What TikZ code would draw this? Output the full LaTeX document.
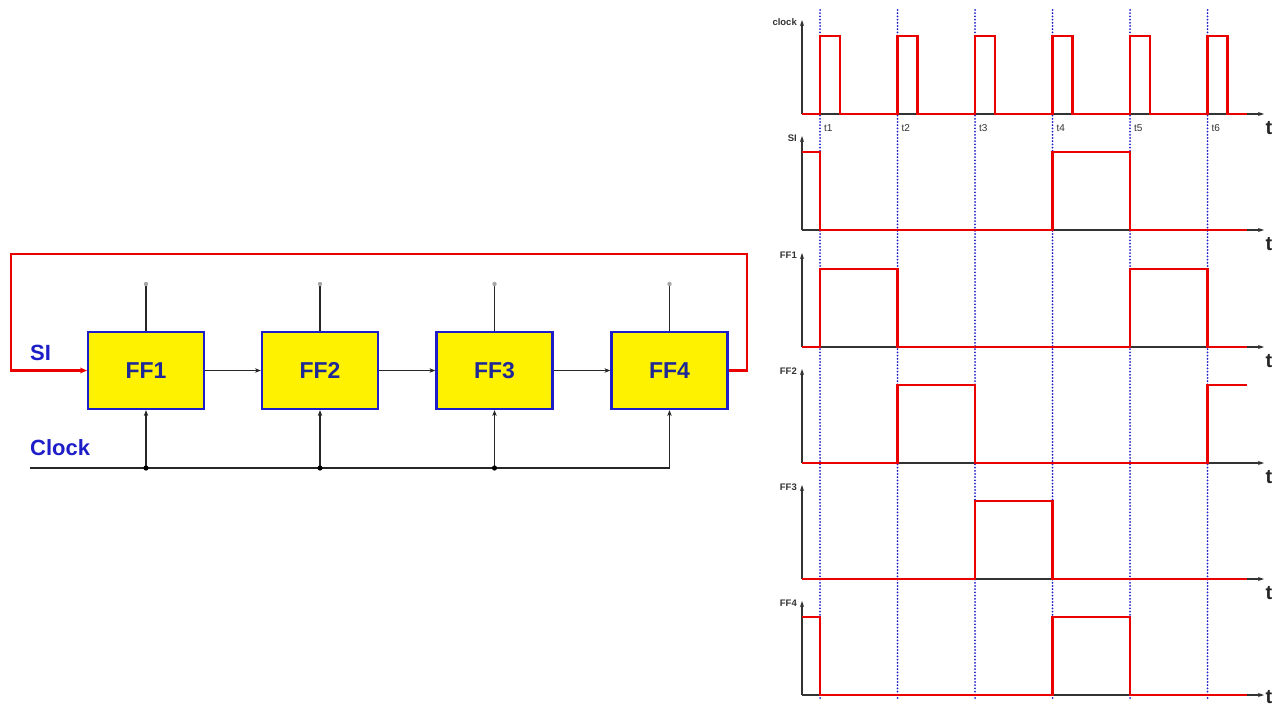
\documentclass[tikz,border=0pt]{standalone}
\usepackage{fontspec}
\setmainfont{Liberation Sans}
\usetikzlibrary{arrows.meta}
\definecolor{ffblue}{RGB}{30,30,200}
\definecolor{fftext}{RGB}{30,40,150}
\definecolor{sigred}{RGB}{235,0,0}
\definecolor{dotblue}{RGB}{30,30,200}
\begin{document}
\begin{tikzpicture}[x=1pt,y=-1pt,
  ffbox/.style={draw=ffblue, line width=2.2pt, fill=yellow, minimum width=116pt, minimum height=77pt, inner sep=0pt, font=\fontsize{23}{23}\selectfont\bfseries, text=fftext},
  wire/.style={line width=1.4pt, black!85},
  redwire/.style={line width=2.6pt, sigred},
  lbl/.style={font=\fontsize{22}{22}\selectfont\bfseries, text=ffblue, inner sep=0pt},
  axisline/.style={line width=1.1pt, black!80, -{Stealth[length=6pt,width=4pt]}},
  wave/.style={line width=2.8pt, sigred, line join=miter},
  tickline/.style={dotblue, line width=2pt, line cap=round, dash pattern=on 0pt off 3.2pt},
  sig/.style={font=\fontsize{9.5}{9.5}\selectfont\bfseries, anchor=east, text=black!80, inner sep=0pt},
  tl/.style={font=\fontsize{10}{10}\selectfont, anchor=west, text=black!80, inner sep=0pt},
  tt/.style={font=\fontsize{20}{20}\selectfont\bfseries, text=black!85, inner sep=0pt},
  pin/.style={fill=gray!70}]
\fill[white] (0,0) rectangle (1284,709);
\useasboundingbox (0,0) rectangle (1284,709);

% ---------------- circuit ----------------
\node[ffbox] (ff1) at (146,370.5) {FF1};
\node[ffbox] (ff2) at (320,370.5) {FF2};
\node[ffbox] (ff3) at (494.5,370.5) {FF3};
\node[ffbox] (ff4) at (669.5,370.5) {FF4};

\node[lbl, anchor=west] (si) at (30,353) {SI};
\node[lbl, anchor=west] (clk) at (30,448) {Clock};

% top pins
\foreach \i/\x in {1/146,2/320,3/494.5,4/669.5}{
  \coordinate (p\i) at (\x,284);
  \draw[wire] (ff\i.north) -- (p\i);
  \fill[pin] (p\i) circle (2.2pt);
}

% data path
\draw[wire,-{Stealth[length=6pt,width=4.5pt]}] (ff1.east) -- (ff2.west);
\draw[wire,-{Stealth[length=6pt,width=4.5pt]}] (ff2.east) -- (ff3.west);
\draw[wire,-{Stealth[length=6pt,width=4.5pt]}] (ff3.east) -- (ff4.west);

% clock
\coordinate (clkL) at (30,468);
\coordinate (c1) at (146,468);
\coordinate (c2) at (320,468);
\coordinate (c3) at (494.5,468);
\coordinate (c4) at (669.5,468);
\draw[wire] (clkL) -- (c4);
\foreach \i in {1,2,3}{
  \draw[wire,-{Stealth[length=6pt,width=4.5pt]}] (c\i) -- (ff\i.south);
  \fill[black] (c\i) circle (2.6pt);
}
\draw[wire,-{Stealth[length=6pt,width=4.5pt]}] (c4) -- (ff4.south);

% feedback
\coordinate (fbRb) at (747,370.5);
\coordinate (fbR) at (747,254);
\coordinate (fbL) at (11,254);
\coordinate (fbLb) at (11,370.5);
\draw[redwire,-{Stealth[length=7pt,width=6pt]}] (ff4.east) -- (fbRb) -- (fbR) -- (fbL) -- (fbLb) -- (ff1.west);

% ---------------- timing diagram ----------------
% dotted time markers
\foreach \t in {820,897.5,975,1052.5,1130,1207.5}{
  \draw[tickline] (\t,10) -- (\t,699);
}
% axes and labels
\foreach \b/\name in {114/clock,230/SI,347/FF1,463/FF2,579/FF3,695/FF4}{
  \draw[axisline] (802,\b) -- (1264,\b);
  \draw[axisline] (802,\b) -- (802,\b-94);
  \node[sig] at (797,\b-92) {\name};
}
\foreach \b in {114,230,347,463,579}{
  \node[tt] at (1269,\b+14) {t};
}
\node[tt] at (1269,697) {t};
% time labels
\foreach \t/\n in {820/t1,897.5/t2,975/t3,1052.5/t4,1130/t5,1207.5/t6}{
  \node[tl] at (\t+4,128) {\n};
}
% waveforms
\draw[wave] (802,114) -- (820,114) -- (820,36) -- (840,36) -- (840,114)
  -- (897.5,114) -- (897.5,36) -- (917.5,36) -- (917.5,114)
  -- (975,114) -- (975,36) -- (995,36) -- (995,114)
  -- (1052.5,114) -- (1052.5,36) -- (1072.5,36) -- (1072.5,114)
  -- (1130,114) -- (1130,36) -- (1150,36) -- (1150,114)
  -- (1207.5,114) -- (1207.5,36) -- (1227.5,36) -- (1227.5,114) -- (1247,114);
\draw[wave] (802,152) -- (820,152) -- (820,230) -- (1052.5,230) -- (1052.5,152)
  -- (1130,152) -- (1130,230) -- (1247,230);
\draw[wave] (802,347) -- (820,347) -- (820,269) -- (897.5,269) -- (897.5,347)
  -- (1130,347) -- (1130,269) -- (1207.5,269) -- (1207.5,347) -- (1247,347);
\draw[wave] (802,463) -- (897.5,463) -- (897.5,385) -- (975,385) -- (975,463)
  -- (1207.5,463) -- (1207.5,385) -- (1247,385);
\draw[wave] (802,579) -- (975,579) -- (975,501) -- (1052.5,501) -- (1052.5,579) -- (1247,579);
\draw[wave] (802,617) -- (820,617) -- (820,695) -- (1052.5,695) -- (1052.5,617)
  -- (1130,617) -- (1130,695) -- (1247,695);
\end{tikzpicture}
\end{document}
